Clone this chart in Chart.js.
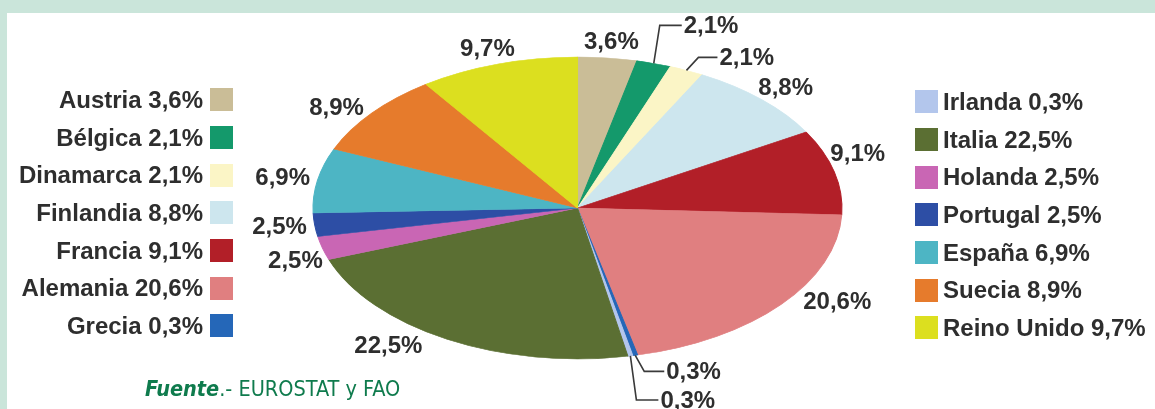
<!DOCTYPE html>
<html lang="es">
<head>
<meta charset="utf-8">
<script src="https://cdn.jsdelivr.net/npm/chart.js@4.4.1/dist/chart.umd.min.js"></script>
<style>
  html, body { margin: 0; padding: 0; }
  body {
    width: 1155px; height: 409px; overflow: hidden; position: relative;
    background: #cae5da;
    font-family: "Liberation Sans", Arial, sans-serif;
  }
  #panel {
    position: absolute; left: 7px; top: 13px; right: 0; bottom: 0;
    background: #ffffff;
  }
  #wrap { position: absolute; left: 0; top: 0; width: 1155px; height: 409px; }
  .legend { position: absolute; }
  .legend .row {
    height: 37.7px; display: flex; align-items: center;
    font-weight: bold; font-size: 24px; color: #2e2e2e; white-space: nowrap;
  }
  #legendLeft { right: 922px; top: 81px; }
  #legendLeft .row { justify-content: flex-end; }
  #legendLeft .box { margin-left: 7px; }
  #legendRight { left: 915px; top: 83px; }
  #legendRight .box { margin-right: 5px; }
  .box { width: 23px; height: 23px; flex: none; }
  #fuente {
    position: absolute; left: 145px; top: 376px;
    font-family: "DejaVu Sans Condensed", "DejaVu Sans", sans-serif;
    font-size: 21.5px; color: #0f7b4d; white-space: nowrap;
  }
  #fuente b { font-style: italic; }
</style>
</head>
<body>
<div id="panel"></div>
<div id="wrap"><canvas id="chart" width="1155" height="409"></canvas></div>
<div class="legend" id="legendLeft"></div>
<div class="legend" id="legendRight"></div>
<div id="fuente"><b>Fuente</b>.- EUROSTAT y FAO</div>

<script>
// Países y porcentajes, en el orden de las porciones (desde arriba, sentido horario)
const countries = ['Austria', 'Bélgica', 'Dinamarca', 'Finlandia', 'Francia', 'Alemania', 'Grecia',
                   'Irlanda', 'Italia', 'Holanda', 'Portugal', 'España', 'Suecia', 'Reino Unido'];
const shares = [3.6, 2.1, 2.1, 8.8, 9.1, 20.6, 0.3, 0.3, 22.5, 2.5, 2.5, 6.9, 8.9, 9.7];
const colors = ['#cabd97', '#14996b', '#fbf5c6', '#cde6ee', '#b21f28', '#e07f80', '#2567b8',
                '#b3c6ec', '#5b6f33', '#c966b4', '#2d4ea5', '#4db5c4', '#e67b2c', '#dcdf1f'];
// primeros 7 en la leyenda izquierda, el resto a la derecha
const leftCount = 7;

// elipse en la que se aplasta la tarta
const ellipse = { cx: 577.5, cy: 208, rx: 264.5, ry: 151 };
// etiquetas con línea guía: [dx, dy] del codo respecto al borde, largo del tramo horizontal
const callouts = { 1: [6, -38, 22], 2: [12, -13, 19], 6: [9, 16, 20], 7: [6, 44, 22] };
// pequeños ajustes manuales de algunas etiquetas
const labelNudge = { 4: [-11, -15], 5: [24, -14], 8: [-38, -8], 9: [7, 8], 12: [-8, 5] };

const fmt = v => v.toFixed(1).replace('.', ',') + '%';

// Leyendas en HTML
function buildLegend(el, from, to, boxFirst) {
  for (let i = from; i < to; i++) {
    const row = document.createElement('div');
    row.className = 'row';
    const box = document.createElement('span');
    box.className = 'box';
    box.style.background = colors[i];
    const txt = document.createElement('span');
    txt.textContent = countries[i] + ' ' + fmt(shares[i]);
    if (boxFirst) { row.appendChild(box); row.appendChild(txt); }
    else { row.appendChild(txt); row.appendChild(box); }
    el.appendChild(row);
  }
}
buildLegend(document.getElementById('legendLeft'), 0, leftCount, false);
buildLegend(document.getElementById('legendRight'), leftCount, countries.length, true);

// Aplasta el círculo en elipse
const squash = {
  id: 'squash',
  beforeDatasetsDraw(chart) {
    const arc = chart.getDatasetMeta(0).data[0];
    const ctx = chart.ctx;
    ctx.save();
    ctx.translate(ellipse.cx, ellipse.cy);
    ctx.scale(ellipse.rx / arc.outerRadius, ellipse.ry / arc.outerRadius);
    ctx.translate(-arc.x, -arc.y);
  },
  afterDatasetsDraw(chart) {
    chart.ctx.restore();
  }
};

// Etiquetas de porcentaje alrededor de la elipse
const pieLabels = {
  id: 'pieLabels',
  afterDraw(chart) {
    const ctx = chart.ctx;
    const arcs = chart.getDatasetMeta(0).data;
    ctx.save();
    ctx.font = 'bold 24px "Liberation Sans", Arial, sans-serif';
    ctx.fillStyle = '#2e2e2e';
    ctx.strokeStyle = '#3a3a3a';
    ctx.lineWidth = 1.6;
    ctx.textBaseline = 'middle';
    arcs.forEach((arc, i) => {
      const a = (arc.startAngle + arc.endAngle) / 2;
      const ca = Math.cos(a), sa = Math.sin(a);
      const text = fmt(shares[i]);
      const w = ctx.measureText(text).width;
      const px = ellipse.cx + ellipse.rx * ca;
      const py = ellipse.cy + ellipse.ry * sa;
      if (callouts[i]) {
        const [dx, dy, len] = callouts[i];
        ctx.beginPath();
        ctx.moveTo(px, py);
        ctx.lineTo(px + dx, py + dy);
        ctx.lineTo(px + dx + len, py + dy);
        ctx.stroke();
        ctx.textAlign = 'left';
        ctx.fillText(text, px + dx + len + 2, py + dy + 1);
        return;
      }
      const gap = 8, h = 17;
      let x = ellipse.cx + (ellipse.rx + gap) * ca + ca * w / 2;
      let y = ellipse.cy + (ellipse.ry + gap) * sa + sa * h / 2;
      if (labelNudge[i]) { x += labelNudge[i][0]; y += labelNudge[i][1]; }
      ctx.textAlign = 'center';
      ctx.fillText(text, x, y + 1);
    });
    ctx.restore();
  }
};

new Chart(document.getElementById('chart'), {
  type: 'pie',
  data: {
    labels: countries,
    datasets: [{
      data: shares,
      backgroundColor: colors,
      borderColor: colors,
      borderWidth: 0.8
    }]
  },
  options: {
    responsive: false,
    animation: false,
    events: [],
    plugins: {
      legend: { display: false },
      tooltip: { enabled: false }
    }
  },
  plugins: [squash, pieLabels]
});
</script>
</body>
</html>
